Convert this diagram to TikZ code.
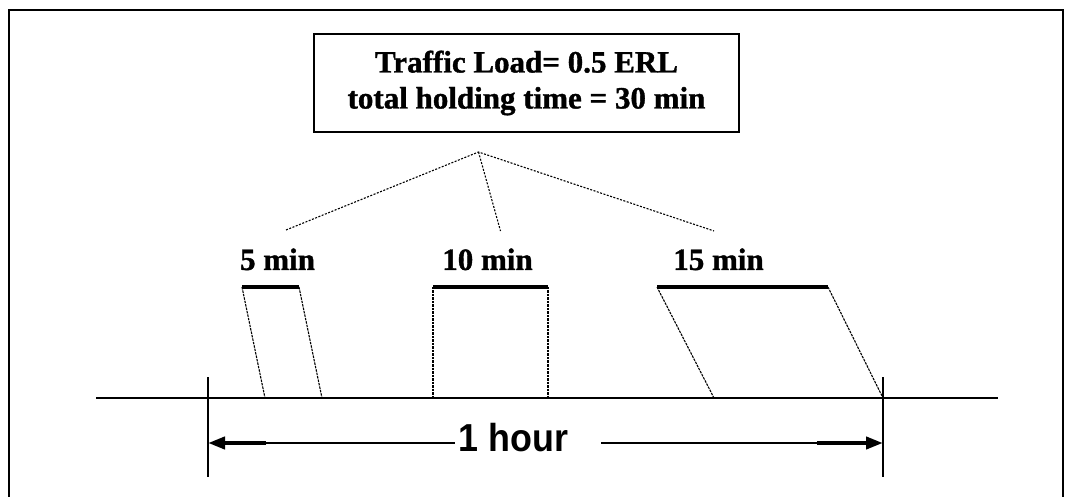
\documentclass[tikz,border=0pt]{standalone}
\usepackage{fontspec}
\setmainfont{Liberation Serif}
\newfontfamily\lblfont{Liberation Serif}[BoldFeatures={FakeBold=1.2}]
\newfontfamily\hoursans{Liberation Sans}[BoldFeatures={FakeStretch=0.92}]
\usetikzlibrary{arrows.meta}
\begin{document}
\begin{tikzpicture}[x=1pt,y=-1pt,
  frameline/.style={line width=2pt},
  loadbox/.style={draw,line width=1.4pt,minimum width=425pt,minimum height=98pt,align=center,inner sep=0pt,font=\lblfont\fontsize{31}{36}\selectfont\bfseries},
  lbl/.style={anchor=base,inner sep=0pt,font=\lblfont\fontsize{31}{36}\selectfont\bfseries},
  hourlbl/.style={anchor=base,inner sep=0pt,font=\hoursans\fontsize{39}{44}\selectfont\bfseries},
  bar/.style={line width=3.5pt},
  side/.style={line width=1.1pt,dash pattern=on 2.5pt off 1pt},
  link/.style={line width=1.1pt,dash pattern=on 2pt off 1.5pt},
  axisline/.style={line width=1.3pt},
  tickline/.style={line width=1.2pt},
  dimline/.style={line width=1.1pt},
  dimthick/.style={line width=4pt},
  dimhead/.style={-{Triangle[length=17pt,width=12pt]}}]
\useasboundingbox (0,0) rectangle (1072,497);
% frame
\coordinate (fbl) at (9,497);
\coordinate (ftl) at (9,10);
\coordinate (ftr) at (1063,10);
\coordinate (fbr) at (1063,497);
\draw[frameline] (fbl) -- (ftl) -- (ftr) -- (fbr);
% box
\node[loadbox] (load) at (526.5,83) {Traffic Load= 0.5 ERL\\total holding time = 30 min};
% links
\coordinate (apex) at (478.5,152);
\coordinate (e5) at (286,230);
\coordinate (e10) at (500.5,231);
\coordinate (e15) at (714,231);
\draw[link] (e5) -- (apex) -- (e15);
\draw[link] (apex) -- (e10);
% labels
\node[lbl] (l5) at (277.5,270) {5 min};
\node[lbl] (l10) at (487.5,270) {10 min};
\node[lbl] (l15) at (718.5,270) {15 min};
% bars
\coordinate (b1a) at (242,287); \coordinate (b1b) at (299,287);
\coordinate (b2a) at (433,287); \coordinate (b2b) at (548,287);
\coordinate (b3a) at (657,287); \coordinate (b3b) at (828,287);
\coordinate (g1a) at (265,398); \coordinate (g1b) at (322,398);
\coordinate (g2a) at (433,398); \coordinate (g2b) at (548,398);
\coordinate (g3a) at (714,398); \coordinate (g3b) at (883,398);
\draw[side] (b1a) -- (g1a); \draw[side] (b1b) -- (g1b);
\draw[side] (b2a) -- (g2a); \draw[side] (b2b) -- (g2b);
\draw[side] (b3a) -- (g3a); \draw[side] (b3b) -- (g3b);
\draw[bar] (b1a) -- (b1b);
\draw[bar] (b2a) -- (b2b);
\draw[bar] (b3a) -- (b3b);
% axis
\coordinate (ax1) at (96,398); \coordinate (ax2) at (998,398);
\draw[axisline] (ax1) -- (ax2);
% ticks
\coordinate (tl1) at (208,377); \coordinate (tl2) at (208,477);
\coordinate (tr1) at (883,377); \coordinate (tr2) at (883,477);
\draw[tickline] (tl1) -- (tl2);
\draw[tickline] (tr1) -- (tr2);
% dimension
\node[hourlbl] (hour) at (513.5,451) {1 hour};
\coordinate (lt) at (208,443); \coordinate (la) at (266,443); \coordinate (lb) at (455,443);
\coordinate (rb) at (601,443); \coordinate (ra) at (817,443); \coordinate (rt) at (883,443);
\draw[dimline] (la) -- (lb);
\draw[dimline] (rb) -- (ra);
\draw[dimthick,dimhead] (la) -- (lt);
\draw[dimthick,dimhead] (ra) -- (rt);
\end{tikzpicture}
\end{document}
